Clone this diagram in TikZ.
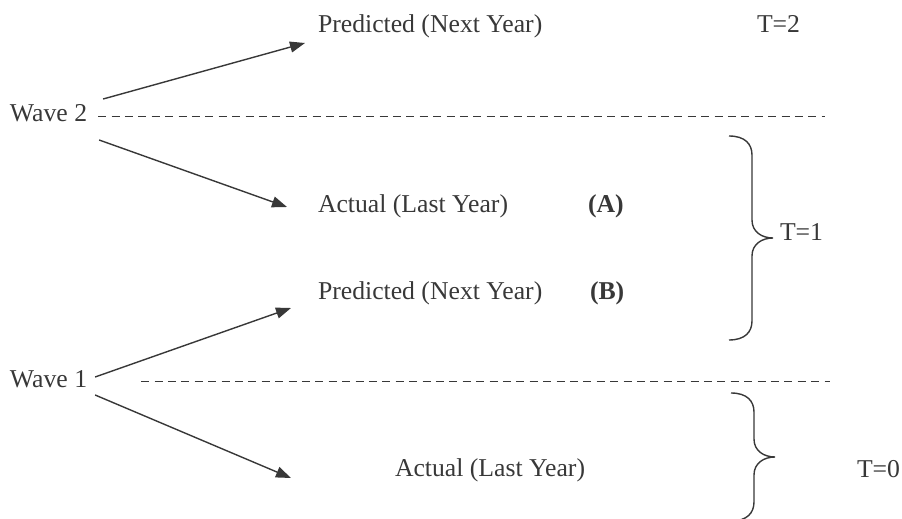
\documentclass[tikz,border=0pt]{standalone}
\usepackage{fontspec}
\setmainfont{Liberation Serif}
\usetikzlibrary{positioning,arrows.meta}

\begin{document}
\begin{tikzpicture}[x=.5pt,y=-.5pt]
  % some colors
  \colorlet{ink}{black!78}
  % some styles
  \tikzset{
    lbl/.style={
      anchor=base west,
      inner sep=0mm,
      outer sep=0mm,
      text=ink,
      font=\fontsize{12.85}{15}\selectfont,
    },
    tag/.style={lbl,font=\fontsize{12.85}{15}\selectfont\bfseries},
    link/.style={-{Triangle[length=7.5pt,width=5.5pt]},draw=ink,line width=.7pt},
    sep/.style={draw=ink,line width=.5pt,dash pattern=on 4pt off 2.7pt},
    % right-hand curly brace, #1 = length of each straight part
    pics/curly/.style={code={
      \draw[ink,line width=.7pt] (0,0)
        .. controls +(16,0) and +(0,-11) .. ++(23,19) -- ++(0,#1)
        .. controls +(0,12) and +(-11,0) .. ++(21,18)
        .. controls +(-11,0) and +(0,-12) .. ++(-21,18) -- ++(0,#1)
        .. controls +(0,11) and +(16,0) .. ++(-23,19);
    }},
  }
  \useasboundingbox (0,0) rectangle (902,519);
  % the two waves
  \node[lbl] (w2) at (10,122) {Wave 2};
  \node[lbl] (w1) at (10,388) {Wave 1};
  % what each wave reports
  \node[lbl] (pn2) at (318,33) {Predicted (Next Year)};
  \node[lbl] (al2) at (318,213) {Actual (Last Year)};
  \node[tag] (a) at (588,213) {(A)};
  \node[lbl] (pn1) at (318,300) {Predicted (Next Year)};
  \node[tag] (b) at (590,300) {(B)};
  \node[lbl] (al1) at (395,477) {Actual (Last Year)};
  % periods
  \node[lbl] (t2) at (757,33) {T=2};
  \node[lbl] (t1) at (780,241) {T=1};
  \node[lbl] (t0) at (857,478) {T=0};
  % arrows
  \draw[link] ([shift={(16,-23)}]w2.base east) -- ([shift={(-13,10)}]pn2.base west);
  \draw[link] ([shift={(12,18)}]w2.base east) -- ([shift={(-31,-6)}]al2.base west);
  \draw[link] ([shift={(8,-11)}]w1.base east) -- ([shift={(-27,8)}]pn1.base west);
  \draw[link] ([shift={(8,7)}]w1.base east) -- ([shift={(-104,1)}]al1.base west);
  % separators
  \draw[sep] ([shift={(11,-5)}]w2.base east) -- ++(727,0);
  \draw[sep] ([shift={(54,-6)}]w1.base east) -- ++(689,0);
  % braces
  \pic at (729,136) {curly=65};
  \pic at (731,393) {curly=27};
\end{tikzpicture}
\end{document}
